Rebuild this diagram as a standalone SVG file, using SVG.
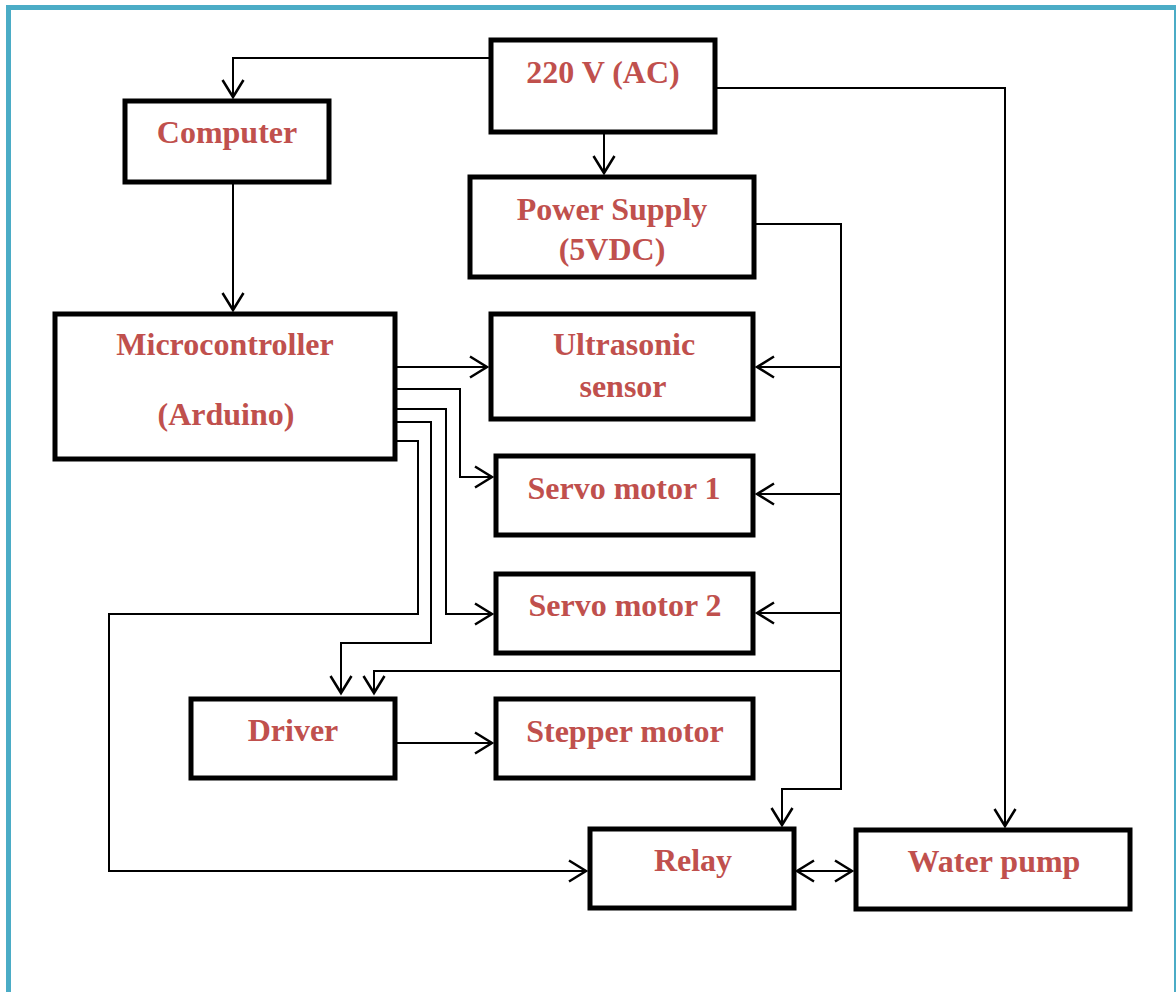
<svg xmlns="http://www.w3.org/2000/svg" width="1176" height="992" viewBox="0 0 1176 992">
  <style>
    .box { fill: #ffffff; stroke: #000000; stroke-width: 5; }
    .lbl { font-family: "Liberation Serif", "Times New Roman", serif; font-weight: bold; font-size: 32px; fill: #C0504D; text-anchor: middle; }
    .wire { fill: none; stroke: #000000; stroke-width: 2; }
    .frame { fill: none; stroke: #4BACC6; stroke-width: 5; }
  </style>
  <defs>
    <marker id="arrow" markerUnits="userSpaceOnUse" markerWidth="22" markerHeight="26" viewBox="0 0 22 26" refX="18" refY="13" orient="auto-start-reverse">
      <path d="M1,2.5 L18,13 L1,23.5" fill="none" stroke="#000000" stroke-width="2.5"/>
    </marker>
  </defs>

  <rect width="1176" height="992" fill="#ffffff"/>
  <rect class="frame" x="8.5" y="7.5" width="1168" height="1000"/>

  <!-- connectors -->
  <g id="connectors">
    <path class="wire" d="M489,58 H233 V97" marker-end="url(#arrow)"/>
    <path class="wire" d="M604,133 V173" marker-end="url(#arrow)"/>
    <path class="wire" d="M716,88 H1005 V826" marker-end="url(#arrow)"/>
    <path class="wire" d="M233,184 V310" marker-end="url(#arrow)"/>
    <path class="wire" d="M397,367 H487" marker-end="url(#arrow)"/>
    <path class="wire" d="M397,389 H460 V477 H492" marker-end="url(#arrow)"/>
    <path class="wire" d="M397,409 H446 V614 H492" marker-end="url(#arrow)"/>
    <path class="wire" d="M397,422 H431 V643 H341 V693" marker-end="url(#arrow)"/>
    <path class="wire" d="M397,441 H418 V614 H109 V871 H586" marker-end="url(#arrow)"/>
    <path class="wire" d="M754,224 H841 V789 H782 V825" marker-end="url(#arrow)"/>
    <path class="wire" d="M841,367 H757" marker-end="url(#arrow)"/>
    <path class="wire" d="M841,494 H757" marker-end="url(#arrow)"/>
    <path class="wire" d="M841,613 H757" marker-end="url(#arrow)"/>
    <path class="wire" d="M841,671 H374 V693" marker-end="url(#arrow)"/>
    <path class="wire" d="M397,743 H492" marker-end="url(#arrow)"/>
    <path class="wire" d="M797,871 H852" marker-start="url(#arrow)" marker-end="url(#arrow)"/>
  </g>

  <g id="ac-mains">
    <rect class="box" x="491" y="40" width="224" height="92"/>
    <text class="lbl" x="603" y="83">220 V (AC)</text>
  </g>
  <g id="computer">
    <rect class="box" x="125" y="101" width="204" height="81"/>
    <text class="lbl" x="227" y="143">Computer</text>
  </g>
  <g id="power-supply">
    <rect class="box" x="470" y="177" width="284" height="100"/>
    <text class="lbl" x="612" y="220">Power Supply</text>
    <text class="lbl" x="612" y="260">(5VDC)</text>
  </g>
  <g id="microcontroller">
    <rect class="box" x="55" y="314" width="340" height="145"/>
    <text class="lbl" x="225" y="355">Microcontroller</text>
    <text class="lbl" x="226" y="425">(Arduino)</text>
  </g>
  <g id="ultrasonic-sensor">
    <rect class="box" x="491" y="314" width="262" height="105"/>
    <text class="lbl" x="624" y="355">Ultrasonic</text>
    <text class="lbl" x="623" y="397">sensor</text>
  </g>
  <g id="servo-1">
    <rect class="box" x="496" y="456" width="257" height="79"/>
    <text class="lbl" x="624" y="499">Servo motor 1</text>
  </g>
  <g id="servo-2">
    <rect class="box" x="496" y="574" width="257" height="79"/>
    <text class="lbl" x="625" y="616">Servo motor 2</text>
  </g>
  <g id="driver">
    <rect class="box" x="191" y="699" width="204" height="79"/>
    <text class="lbl" x="293" y="741">Driver</text>
  </g>
  <g id="stepper-motor">
    <rect class="box" x="496" y="699" width="257" height="79"/>
    <text class="lbl" x="625" y="742">Stepper motor</text>
  </g>
  <g id="relay">
    <rect class="box" x="590" y="829" width="204" height="79"/>
    <text class="lbl" x="693" y="871">Relay</text>
  </g>
  <g id="water-pump">
    <rect class="box" x="856" y="830" width="274" height="79"/>
    <text class="lbl" x="994" y="872">Water pump</text>
  </g>
</svg>
